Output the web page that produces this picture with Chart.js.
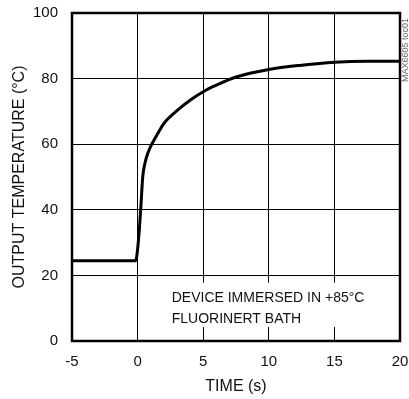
<!DOCTYPE html>
<html>
<head>
<meta charset="utf-8">
<script src="https://cdn.jsdelivr.net/npm/chart.js@4"></script>
<style>
  body { margin: 0; background: #fff; }
  #wrap { width: 409px; height: 399px; }
</style>
</head>
<body>
<div id="wrap"><canvas id="grafico" width="409" height="399"></canvas></div>
<script>
// dados
const timeS = [-5, -0.2, -0.1, 0.05, 0.15, 0.24, 0.39, 0.56, 0.8, 1.12, 1.5, 2, 3, 4, 5, 6, 7.5, 10, 12.5, 15, 17.5, 20];
const tempC = [24.5, 24.5, 25, 30, 35, 40.3, 50, 54.2, 57.5, 60.3, 63, 66.3, 70.2, 73.4, 76, 78, 80.5, 82.8, 84.1, 85, 85.3, 85.3];
const xTicks = [-5, 0, 5, 10, 15, 20];
const yTicks = [0, 20, 40, 60, 80, 100];
const noteLines = ['DEVICE IMMERSED IN +85°C', 'FLUORINERT BATH'];
const sideLabel = 'MAX6605 toc01';

const fonte = "'Liberation Sans', Arial, sans-serif";

// tira o espaço extra que o Chart.js reserva para os rótulos
function semPadding(s) {
  s.paddingTop = 0; s.paddingBottom = 0; s.paddingLeft = 0; s.paddingRight = 0;
}

// moldura, caixa de texto e etiqueta lateral
const extras = {
  id: 'extras',
  beforeDatasetsDraw(chart) {
    const ctx = chart.ctx;
    const x = chart.scales.x, y = chart.scales.y;
    const bx = x.getPixelForValue(2.4), by = y.getPixelForValue(17.8);
    const bw = x.getPixelForValue(17.4) - bx, bh = y.getPixelForValue(4.3) - by;
    ctx.save();
    ctx.fillStyle = '#fff';
    ctx.fillRect(bx, by, bw, bh);
    ctx.fillStyle = '#111';
    ctx.font = '14px ' + fonte;
    ctx.textBaseline = 'alphabetic';
    ctx.fillText(noteLines[0], x.getPixelForValue(2.6), y.getPixelForValue(11.9));
    ctx.fillText(noteLines[1], x.getPixelForValue(2.6), y.getPixelForValue(5.4));
    ctx.restore();
  },
  afterDraw(chart) {
    const ctx = chart.ctx;
    const a = chart.chartArea;
    ctx.save();
    ctx.strokeStyle = '#000';
    ctx.lineWidth = 2.5;
    ctx.strokeRect(a.left, a.top, a.right - a.left, a.bottom - a.top);
    ctx.translate(406, 50);
    ctx.rotate(-Math.PI / 2);
    ctx.fillStyle = '#666';
    ctx.font = '9px ' + fonte;
    ctx.textAlign = 'center';
    ctx.textBaseline = 'middle';
    ctx.fillText(sideLabel, 0, 0);
    ctx.restore();
  }
};

const ctx = document.getElementById('grafico').getContext('2d');
new Chart(ctx, {
  type: 'line',
  data: {
    datasets: [{
      data: timeS.map((t, i) => ({ x: t, y: tempC[i] })),
      borderColor: '#000',
      borderWidth: 3,
      pointRadius: 0,
      cubicInterpolationMode: 'monotone',
      fill: false
    }]
  },
  options: {
    responsive: false,
    animation: false,
    layout: { padding: { top: 13, right: 9, left: 0, bottom: 0 } },
    plugins: { legend: { display: false }, tooltip: { enabled: false } },
    scales: {
      x: {
        type: 'linear',
        min: -5,
        max: 20,
        afterFit: s => { s.height = 58; semPadding(s); },
        afterBuildTicks: s => { s.ticks = xTicks.map(v => ({ value: v })); },
        grid: { color: '#000', lineWidth: 1, drawTicks: false },
        border: { display: false },
        ticks: { color: '#111', padding: 12, font: { family: fonte, size: 15 } },
        title: {
          display: true,
          text: 'TIME (s)',
          color: '#111',
          font: { family: fonte, size: 16 },
          padding: { top: 3, bottom: 3 }
        }
      },
      y: {
        min: 0,
        max: 100,
        afterFit: s => { s.width = 72; semPadding(s); },
        afterBuildTicks: s => { s.ticks = yTicks.map(v => ({ value: v })); },
        grid: { color: '#000', lineWidth: 1, drawTicks: false },
        border: { display: false },
        ticks: { color: '#111', padding: 14, font: { family: fonte, size: 15 } },
        title: {
          display: true,
          text: 'OUTPUT TEMPERATURE (°C)',
          color: '#111',
          font: { family: fonte, size: 16 },
          padding: { top: 10, bottom: 10 }
        }
      }
    }
  },
  plugins: [extras]
});
</script>
</body>
</html>
